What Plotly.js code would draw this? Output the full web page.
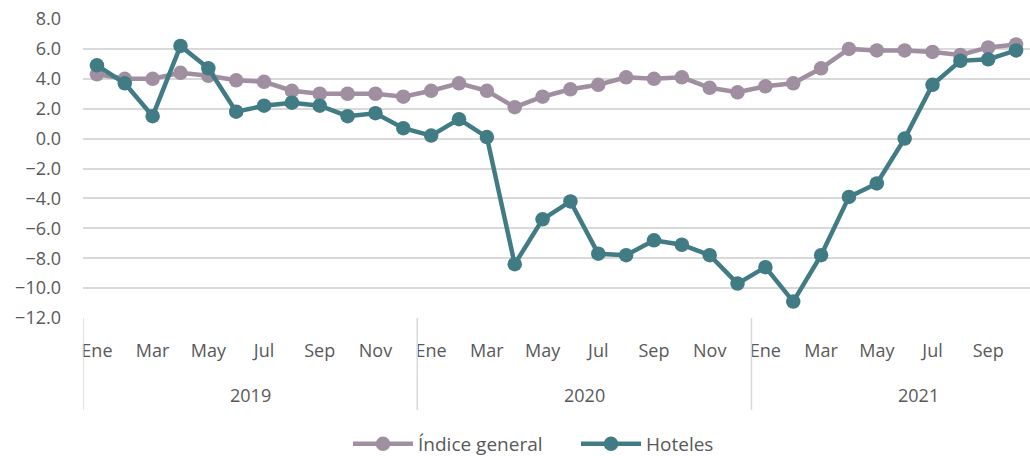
<!DOCTYPE html>
<html>
<head>
<meta charset="utf-8">
<script src="https://cdn.plot.ly/plotly-3.0.1.min.js"></script>
<style>html,body{margin:0;padding:0;background:#fff;}#chart{width:1030px;height:456px;}</style>
</head>
<body>
<div id="chart"></div>
<script>
const months = ["Ene","Feb","Mar","Abr","May","Jun","Jul","Ago","Sep","Oct","Nov","Dic"];
const years = ["2019","2020","2021"];
const monthCount = 34;
const indiceGeneral = [4.3,4.0,4.0,4.4,4.2,3.9,3.8,3.2,3.0,3.0,3.0,2.8,
                       3.2,3.7,3.2,2.1,2.8,3.3,3.6,4.1,4.0,4.1,3.4,3.1,
                       3.5,3.7,4.7,6.0,5.9,5.9,5.8,5.6,6.1,6.3];
const hoteles = [4.9,3.7,1.5,6.2,4.7,1.8,2.2,2.4,2.2,1.5,1.7,0.7,
                 0.2,1.3,0.1,-8.4,-5.4,-4.2,-7.7,-7.8,-6.8,-7.1,-7.8,-9.7,
                 -8.6,-10.9,-7.8,-3.9,-3.0,0.0,3.6,5.2,5.3,5.9];

const xIdx = [];
for (let i = 0; i < monthCount; i++) xIdx.push(i);
const tickVals = xIdx.filter(i => i % 2 === 0);
const tickText = tickVals.map(i => months[i % 12]);

const textColor = "#595959";
const gridColor = "#d9d9d9";
const font = "Open Sans, Noto Sans, sans-serif";

const traces = [
  {x: xIdx, y: indiceGeneral, name: "Índice general", type: "scatter", mode: "lines+markers",
   line: {color: "#A08FA0", width: 4.5}, marker: {color: "#A08FA0", size: 14.5}},
  {x: xIdx, y: hoteles, name: "Hoteles", type: "scatter", mode: "lines+markers",
   line: {color: "#417B84", width: 4.5}, marker: {color: "#417B84", size: 14.5}}
];

const annotations = years.map((yr, k) => ({
  x: k * 12 + 5.5, xref: "x", y: (318 - 395) / 299, yref: "paper", text: yr, showarrow: false,
  font: {family: font, size: 18, color: textColor}, yanchor: "middle"
}));

const shapes = [-0.5, 11.5, 23.5].map(v => ({
  type: "line", xref: "x", yref: "paper", x0: v, x1: v, y0: 0, y1: (318 - 410) / 299,
  line: {color: gridColor, width: 1.5}
}));

const layout = {
  width: 1030, height: 456,
  margin: {l: 83, r: 0, t: 19, b: 138, autoexpand: false},
  paper_bgcolor: "#fff", plot_bgcolor: "#fff",
  showlegend: true,
  legend: {orientation: "h", x: 348 / 1030, xanchor: "left", xref: "container",
           y: (456 - 444) / 456, yanchor: "middle", yref: "container",
           entrywidth: 153, entrywidthmode: "pixels",
           font: {family: font, size: 19, color: textColor}, itemwidth: 60},
  xaxis: {range: [-0.5, 33.5], tickvals: tickVals, ticktext: tickText, showgrid: false,
          zeroline: false, showline: false, ticks: "", ticklabelstandoff: 20,
          tickfont: {family: font, size: 18, color: textColor}, fixedrange: true},
  yaxis: {range: [-12, 8], dtick: 2, tick0: 0, tickformat: ".1f", showgrid: true,
          gridcolor: gridColor, gridwidth: 2, zeroline: true, zerolinecolor: gridColor,
          zerolinewidth: 2, showline: false, ticks: "", ticklabelstandoff: 21,
          tickfont: {family: font, size: 18, color: textColor}, fixedrange: true},
  annotations: annotations,
  shapes: shapes
};

Plotly.newPlot("chart", traces, layout, {displayModeBar: false, staticPlot: true});
</script>
</body>
</html>
